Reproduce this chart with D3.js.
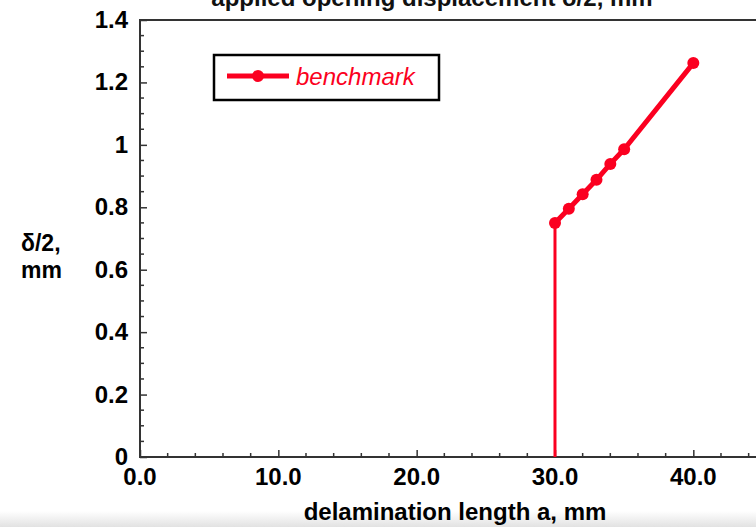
<!DOCTYPE html>
<html>
<head>
<meta charset="utf-8">
<script src="https://cdn.jsdelivr.net/npm/d3@7/dist/d3.min.js"></script>
<style>
  html, body { margin: 0; padding: 0; background: #fff; overflow: hidden; }
  svg { display: block; }
  text { font-family: "Liberation Sans", Arial, Helvetica, sans-serif; }
</style>
</head>
<body>
<svg id="chart" width="756" height="527"></svg>
<script>
// ---- data ----
const delaminationLength = [30, 31, 32, 33, 34, 35, 40];
const halfDisplacement   = [0.75, 0.795, 0.842, 0.888, 0.939, 0.986, 1.262];
const dropX = [30, 30];
const dropY = [0, 0.75];
const xTickValues = [0, 10, 20, 30, 40];
const yTickValues = [0, 0.2, 0.4, 0.6, 0.8, 1, 1.2, 1.4];
const yTickLabels = ["0", "0.2", "0.4", "0.6", "0.8", "1", "1.2", "1.4"];
const seriesName = "benchmark";
const titleText = "applied opening displacement \u03b4/2, mm";
const xTitle = "delamination length a, mm";
const yTitle = ["\u03b4/2,", "mm"];

const svg = d3.select("#chart");
const W = 756, H = 527;
const red = "#fb0020";
const axisColor = "#333";

const x = d3.scaleLinear().domain([0, 50]).range([140, 140 + 50 * 13.833]);
const y = d3.scaleLinear().domain([0, 1.4]).range([457, 20]);

// bottom shading band
const defs = svg.append("defs");
const grad = defs.append("linearGradient").attr("id", "shade").attr("x1", 0).attr("y1", 0).attr("x2", 0).attr("y2", 1);
grad.append("stop").attr("offset", "0%").attr("stop-color", "#ffffff");
grad.append("stop").attr("offset", "100%").attr("stop-color", "#e2e2e2");
svg.append("rect").attr("x", 0).attr("y", 511).attr("width", W).attr("height", 16).attr("fill", "url(#shade)");

// title (cut off at top, as in the reference)
svg.append("text").attr("x", 432).attr("y", 6).attr("text-anchor", "middle")
  .attr("font-size", 24).attr("font-weight", "bold").attr("fill", "#111").text(titleText);

// top frame line
svg.append("line").attr("x1", x(0)).attr("x2", W).attr("y1", y(1.4)).attr("y2", y(1.4))
  .attr("stroke", axisColor).attr("stroke-width", 2);

// x axis
const xAxis = d3.axisTop(x).tickValues(d3.range(0, 51, 10)).tickSize(7).tickFormat("");
const gx = svg.append("g").attr("transform", `translate(0,${y(0)})`).call(xAxis);
gx.select(".domain").remove();
gx.selectAll(".tick line").attr("stroke", axisColor).attr("stroke-width", 1.5);
const xMinor = d3.range(0, 51, 2).filter(v => v % 10 !== 0);
svg.append("g").selectAll("line").data(xMinor).join("line")
  .attr("x1", d => x(d)).attr("x2", d => x(d)).attr("y1", y(0)).attr("y2", y(0) - 4)
  .attr("stroke", axisColor).attr("stroke-width", 1.5);
svg.append("line").attr("x1", x(0) - 1).attr("x2", W).attr("y1", y(0)).attr("y2", y(0))
  .attr("stroke", axisColor).attr("stroke-width", 2);
svg.append("g").selectAll("text").data(xTickValues).join("text")
  .attr("x", d => x(d)).attr("y", 485).attr("text-anchor", "middle")
  .attr("font-size", 24).attr("font-weight", "bold").attr("fill", "#000")
  .text(d => d3.format(".1f")(d));

// y axis
const yAxis = d3.axisRight(y).tickValues(yTickValues).tickSize(7).tickFormat("");
const gy = svg.append("g").attr("transform", `translate(${x(0)},0)`).call(yAxis);
gy.select(".domain").remove();
gy.selectAll(".tick line").attr("stroke", axisColor).attr("stroke-width", 1.5);
const yMinor = d3.range(0, 1.4001, 0.05).filter(v => Math.abs(v * 5 - Math.round(v * 5)) > 1e-6);
svg.append("g").selectAll("line").data(yMinor).join("line")
  .attr("x1", x(0)).attr("x2", x(0) + 4).attr("y1", d => y(d)).attr("y2", d => y(d))
  .attr("stroke", axisColor).attr("stroke-width", 1.5);
svg.append("line").attr("x1", x(0)).attr("x2", x(0)).attr("y1", y(1.4) - 1).attr("y2", y(0) + 1)
  .attr("stroke", axisColor).attr("stroke-width", 2);
svg.append("g").selectAll("text").data(yTickValues).join("text")
  .attr("x", 128).attr("y", d => y(d) + 8).attr("text-anchor", "end")
  .attr("font-size", 24).attr("font-weight", "bold").attr("fill", "#000")
  .text((d, i) => yTickLabels[i]);

// axis titles
svg.append("text").attr("x", 455).attr("y", 520).attr("text-anchor", "middle")
  .attr("font-size", 24).attr("font-weight", "bold").attr("fill", "#000").text(xTitle);
svg.append("text").attr("x", 21).attr("y", 251)
  .attr("font-size", 23).attr("font-weight", "bold").attr("fill", "#000").text(yTitle[0]);
svg.append("text").attr("x", 21).attr("y", 278)
  .attr("font-size", 23).attr("font-weight", "bold").attr("fill", "#000").text(yTitle[1]);

// drop line
const dropData = dropX.map((v, i) => [v, dropY[i]]);
svg.append("path").datum(dropData)
  .attr("d", d3.line().x(d => x(d[0])).y(d => y(d[1])))
  .attr("fill", "none").attr("stroke", red).attr("stroke-width", 3);

// series
const pts = delaminationLength.map((v, i) => [v, halfDisplacement[i]]);
svg.append("path").datum(pts)
  .attr("d", d3.line().x(d => x(d[0])).y(d => y(d[1])))
  .attr("fill", "none").attr("stroke", red).attr("stroke-width", 5).attr("stroke-linejoin", "round");
svg.append("g").selectAll("circle").data(pts).join("circle")
  .attr("cx", d => x(d[0])).attr("cy", d => y(d[1])).attr("r", 6).attr("fill", red);

// legend
svg.append("rect").attr("x", 214).attr("y", 55).attr("width", 225).attr("height", 45)
  .attr("fill", "#fff").attr("stroke", "#000").attr("stroke-width", 2.5);
svg.append("line").attr("x1", 227).attr("x2", 289).attr("y1", 76).attr("y2", 76)
  .attr("stroke", red).attr("stroke-width", 5);
svg.append("circle").attr("cx", 258).attr("cy", 76).attr("r", 6).attr("fill", red);
svg.append("text").attr("x", 296).attr("y", 85).attr("font-size", 24).attr("font-style", "italic")
  .attr("fill", red).text(seriesName);
</script>
</body>
</html>
